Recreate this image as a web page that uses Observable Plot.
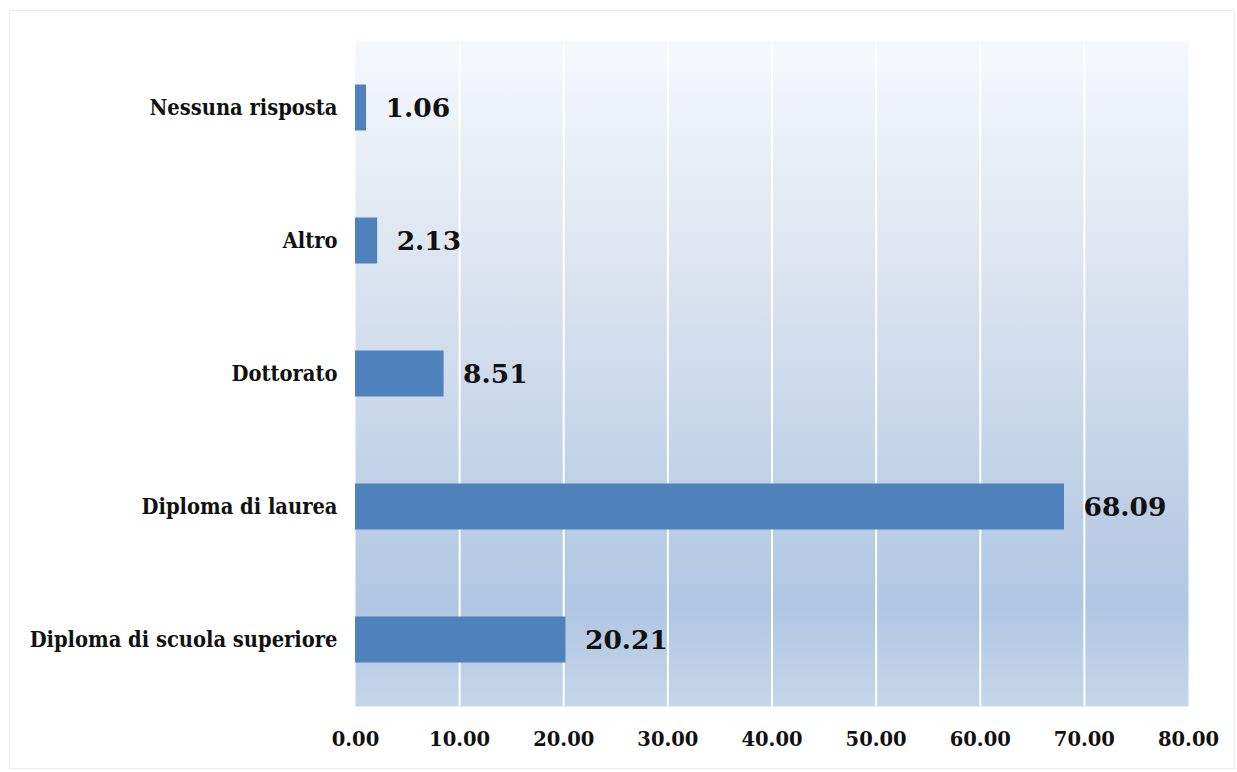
<!DOCTYPE html>
<html>
<head>
<meta charset="utf-8">
<script src="https://cdn.jsdelivr.net/npm/d3@7"></script>
<script src="https://cdn.jsdelivr.net/npm/@observablehq/plot@0.6"></script>
<style>
  html, body { margin: 0; padding: 0; background: #ffffff; }
  #frame {
    position: absolute; left: 9px; top: 10px; width: 1226px; height: 759px;
    border: 1px solid #ececec; box-sizing: border-box;
  }
  #chart { position: absolute; left: 0; top: 0; }
  svg { overflow: visible; }
</style>
</head>
<body>
<div id="frame"></div>
<div id="chart"></div>
<script>
// Titolo di studio dei rispondenti (%)
const categories = [
  "Nessuna risposta",
  "Altro",
  "Dottorato",
  "Diploma di laurea",
  "Diploma di scuola superiore"
];
const values = [1.06, 2.13, 8.51, 68.09, 20.21];
const xTicks = [0, 10, 20, 30, 40, 50, 60, 70, 80];
const gridTicks = [10, 20, 30, 40, 50, 60, 70];

const data = categories.map((c, i) => ({category: c, value: values[i]}));
const fmt = d3.format(".2f");

const plot = Plot.plot({
  width: 1237,
  height: 772,
  marginLeft: 355,
  marginRight: 49,
  marginTop: 40,
  marginBottom: 66,
  style: {background: "transparent", color: "#111"},
  x: {domain: [0, 80], ticks: xTicks, tickFormat: fmt, label: null},
  y: {domain: categories, padding: 0, label: null},
  marks: [
    Plot.frame({fill: "url(#plotBg)", stroke: null}),
    Plot.ruleX(gridTicks, {stroke: "#ffffff", strokeWidth: 2}),
    Plot.barX(data, {
      y: "category", x: "value", fill: "#4f81bd",
      insetTop: 43.5, insetBottom: 43.5
    }),
    Plot.text(data, {
      y: "category", x: "value", text: d => fmt(d.value),
      textAnchor: "start", dx: 19, dy: 1,
      fontFamily: "DejaVu Serif", fontWeight: "bold", fontSize: 26.5, fill: "#111"
    }),
    Plot.axisX({
      ticks: xTicks, tickFormat: fmt, tickSize: 0, tickPadding: 26,
      fontFamily: "DejaVu Serif", fontWeight: "bold", fontSize: 19.5, label: null
    }),
    Plot.axisY({
      tickSize: 0, tickPadding: 18,
      fontFamily: "DejaVu Serif Condensed", fontWeight: "bold", fontSize: 21.7, label: null
    })
  ]
});

// vertical gradient used as the plot-area fill
const ns = "http://www.w3.org/2000/svg";
const defs = document.createElementNS(ns, "defs");
const grad = document.createElementNS(ns, "linearGradient");
grad.setAttribute("id", "plotBg");
grad.setAttribute("x1", "0"); grad.setAttribute("y1", "0");
grad.setAttribute("x2", "0"); grad.setAttribute("y2", "1");
[["0", "#f6f8fc"], ["0.45", "#d3deed"], ["0.85", "#b0c6e2"], ["1", "#c6d6ea"]].forEach(([o, c]) => {
  const s = document.createElementNS(ns, "stop");
  s.setAttribute("offset", o);
  s.setAttribute("stop-color", c);
  grad.appendChild(s);
});
defs.appendChild(grad);
plot.insertBefore(defs, plot.firstChild);

document.getElementById("chart").appendChild(plot);
</script>
</body>
</html>
